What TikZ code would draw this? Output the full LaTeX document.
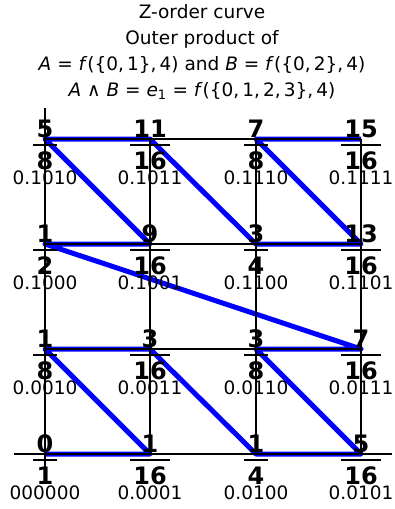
\documentclass[tikz,border=0pt]{standalone}
\usepackage{fontspec}
\setmainfont{DejaVu Sans}
\definecolor{zblue}{RGB}{0,0,255}
\begin{document}
\begin{tikzpicture}[x=1pt,y=-1pt,
  blueline/.style={draw=zblue, line width=5pt, line join=round},
  gridline/.style={draw=black, line width=2pt},
  fracnum/.style={font=\fontsize{24}{24}\selectfont\bfseries, inner sep=0pt, anchor=base},
  binlabel/.style={font=\fontsize{18.5}{18.5}\selectfont, inner sep=0pt, anchor=base},
  fracbar/.style={draw=black, line width=1.8pt, shorten <=-3pt, shorten >=-3pt},
  titletext/.style={font=\fontsize{18.5}{18.5}\selectfont, inner sep=0pt, anchor=base}]
\useasboundingbox (0,0) rectangle (395,509);
% grid points
\foreach \i/\x/\y in {0/45/454, 1/150/454, 2/45/349, 3/150/349, 4/256/454, 5/361/454, 6/256/349, 7/361/349, 8/45/244, 9/150/244, 10/45/139, 11/150/139, 12/256/244, 13/361/244, 14/256/139, 15/361/139}
  \coordinate (p\i) at (\x,\y);
\coordinate (lt) at (45,108);
\coordinate (lb) at (45,478);
\coordinate (bl) at (14,454);
\coordinate (br) at (392,454);
% Z-order curve
\draw[blueline] (p0) -- (p1) -- (p2) -- (p3) -- (p4) -- (p5) -- (p6) -- (p7) -- (p8) -- (p9) -- (p10) -- (p11) -- (p12) -- (p13) -- (p14) -- (p15);
% black lines
\draw[gridline] (lt) -- (lb);
\draw[gridline] (p1) -- (p11);
\draw[gridline] (p4) -- (p14);
\draw[gridline] (p5) -- (p15);
\draw[gridline] (p10) -- (p15);
\draw[gridline] (p8) -- (p13);
\draw[gridline] (p2) -- (p7);
\draw[gridline] (bl) -- (br);
% labels
\foreach \i/\n/\d/\b in {0/0/1/000000, 1/1/16/0.0001, 2/1/8/0.0010, 3/3/16/0.0011, 4/1/4/0.0100, 5/5/16/0.0101, 6/3/8/0.0110, 7/7/16/0.0111, 8/1/2/0.1000, 9/9/16/0.1001, 10/5/8/0.1010, 11/11/16/0.1011, 12/3/4/0.1100, 13/13/16/0.1101, 14/7/8/0.1110, 15/15/16/0.1111}{
  \node[fracnum] (num\i) at ([yshift=2pt]p\i) {\n};
  \node[fracnum] (den\i) at ([yshift=-30pt]p\i) {\d};
  \coordinate (bar\i) at ([yshift=-6pt]p\i);
  \draw[fracbar] (den\i.west |- bar\i) -- (den\i.east |- bar\i);
  \node[binlabel] (bin\i) at ([yshift=-45pt]p\i) {\b};
}
% title
\node[titletext] (t1) at (202,18) {Z-order curve};
\node[titletext] (t2) at (202,44) {Outer product of};
\node[titletext] (t3) at (202,70) {\textit{A} = \textit{f}(\{0,\,1\},\,4) and \textit{B} = \textit{f}(\{0,\,2\},\,4)};
\node[titletext] (t4) at (202,96.5) {\textit{A} ∧ \textit{B} = \textit{e}\textsubscript{1} = \textit{f}(\{0,\,1,\,2,\,3\},\,4)};
\end{tikzpicture}
\end{document}
